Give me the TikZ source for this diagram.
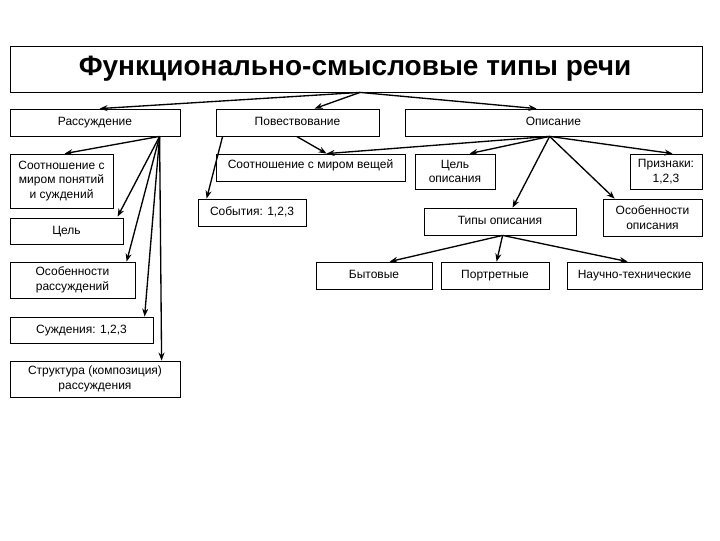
\documentclass[tikz,border=0pt]{standalone}
\usepackage{fontspec}
\setmainfont{Liberation Sans}
\usetikzlibrary{fit,calc,arrows.meta}
\begin{document}
\begin{tikzpicture}[x=0.75pt,y=-0.75pt,
  box/.style={draw=black,line width=0.6pt,inner sep=0pt},
  txt/.style={font=\fontsize{9}{10.8}\selectfont,text height=6.6pt,text depth=2pt,inner sep=0pt},
  mtxt/.style={font=\fontsize{9}{10.8}\selectfont,align=center,inner sep=0pt},
  arr/.style={line width=1pt,-{Stealth[length=6pt,width=4.5pt]}}]
\useasboundingbox[fill=white] (0,0) rectangle (720,540);
% title
\node[box,fit={(10,46) (702,92)}] (T) {};
\node[font=\fontsize{21}{25}\selectfont\bfseries] at ($(T.center)+(-1,0)$) {Функционально-смысловые типы речи};
% row 1
\node[box,fit={(10,109) (180,136)}] (R) {};
\node[txt] at (R.center) {Рассуждение};
\node[box,fit={(216,109) (379,136)}] (P) {};
\node[txt] at (P.center) {Повествование};
\node[box,fit={(405,109) (702,136)}] (O) {};
\node[txt] at (O.center) {Описание};
% Рассуждение children
\node[box,fit={(10,154) (113,208)}] (r1) {};
\node[mtxt] at (r1.center) {Соотношение с\\миром понятий\\и суждений};
\node[box,fit={(10,218) (123,244)}] (r2) {};
\node[txt] at (r2.center) {Цель};
\node[box,fit={(10,262) (135,298)}] (r3) {};
\node[mtxt] at (r3.center) {Особенности\\рассуждений};
\node[box,fit={(10,317) (153,343)}] (r4) {};
\node[txt] at (r4.center) {Суждения: 1,2,3};
\node[box,fit={(10,361) (180,397)}] (r5) {};
\node[mtxt] at (r5.center) {Структура (композиция)\\рассуждения};
% Повествование children
\node[box,fit={(216,154) (405,181)}] (p1) {};
\node[txt] at ($(p1.center)+(0,-2)$) {Соотношение с миром вещей};
\node[box,fit={(198,199) (306,226)}] (p2) {};
\node[txt] at (p2.center) {События: 1,2,3};
% Описание children
\node[box,fit={(415,154) (495,189)}] (o1) {};
\node[mtxt] at (o1.center) {Цель\\описания};
\node[box,fit={(630,154) (702,189)}] (o2) {};
\node[mtxt] at (o2.center) {Признаки:\\1,2,3};
\node[box,fit={(424,208) (576,235)}] (o3) {};
\node[txt] at (o3.center) {Типы описания};
\node[box,fit={(603,199) (702,236)}] (o4) {};
\node[mtxt] at (o4.center) {Особенности\\описания};
% Типы описания children
\node[box,fit={(316,262) (432,289)}] (t1) {};
\node[txt] at (t1.center) {Бытовые};
\node[box,fit={(441,262) (549,289)}] (t2) {};
\node[txt] at (t2.center) {Портретные};
\node[box,fit={(567,262) (702,289)}] (t3) {};
\node[txt] at (t3.center) {Научно-технические};
% origins
\coordinate (To) at ($(T.south)+(4,0)$);
\coordinate (Ro) at ($(R.south west)+(150,0)$);
\coordinate (Po1) at ($(P.south west)+(7,0)$);
\coordinate (Po2) at ($(P.south west)+(81,0)$);
\coordinate (Oo) at ($(O.south west)+(145,0)$);
\coordinate (Qo) at ($(o3.south west)+(79,0)$);
% arrows
\draw[arr] (To) -- ($(R.north west)+(90,0)$);
\draw[arr] (To) -- ($(P.north west)+(99,0)$);
\draw[arr] (To) -- ($(O.north west)+(132,0)$);
\draw[arr] (Ro) -- ($(r1.north west)+(55,0)$);
\draw[arr] (Ro) -- ($(r2.north west)+(108,-1)$);
\draw[arr] (Ro) -- ($(r3.north west)+(117,0)$);
\draw[arr] (Ro) -- ($(r4.north west)+(135,0)$);
\draw[arr] (Ro) -- ($(r5.north west)+(152,0)$);
\draw[arr] (Po1) -- ($(p2.north west)+(9,0)$);
\draw[arr] (Po2) -- ($(p1.north west)+(111,0)$);
\draw[arr] (Oo) -- ($(p1.north west)+(111,0)$);
\draw[arr] (Oo) -- ($(o1.north west)+(55,0)$);
\draw[arr] (Oo) -- ($(o2.north west)+(43,0)$);
\draw[arr] (Oo) -- ($(o3.north west)+(89,0)$);
\draw[arr] (Oo) -- ($(o4.north west)+(12,0)$);
\draw[arr] (Qo) -- ($(t1.north west)+(74,0)$);
\draw[arr] (Qo) -- ($(t2.north west)+(56,0)$);
\draw[arr] (Qo) -- ($(t3.north west)+(61,0)$);
\end{tikzpicture}
\end{document}
